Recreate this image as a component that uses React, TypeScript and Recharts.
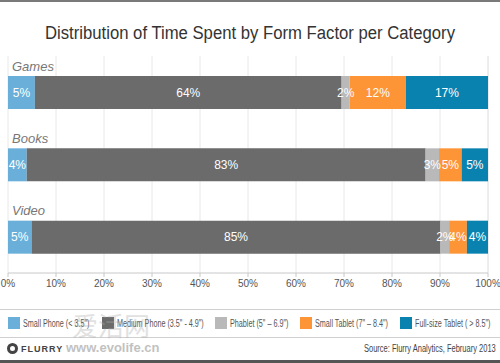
import React from 'react';
import { BarChart, Bar, XAxis, YAxis, CartesianGrid, LabelList } from 'recharts';

// categories and series
const categories = ['Games', 'Books', 'Video'];
const seriesKeys = ['smallPhone', 'mediumPhone', 'phablet', 'smallTablet', 'fullTablet'];
const seriesNames = [
  'Small Phone (< 3.5")',
  'Medium Phone (3.5" - 4.9")',
  'Phablet (5" – 6.9")',
  'Small Tablet (7" – 8.4")',
  'Full-size Tablet ( > 8.5")',
];
const seriesColors = ['#6aafd9', '#6b6b6b', '#b9b9b9', '#fd9436', '#0a82b0'];

// bar lengths (measured) and the printed labels
const smallPhone = [5.6, 3.9, 4.9];
const mediumPhone = [63.9, 83.1, 85.2];
const phablet = [1.7, 2.8, 1.8];
const smallTablet = [11.7, 4.7, 3.7];
const fullTablet = [17.1, 5.5, 4.4];
const smallPhoneLabel = [5, 4, 5];
const mediumPhoneLabel = [64, 83, 85];
const phabletLabel = [2, 3, 2];
const smallTabletLabel = [12, 5, 4];
const fullTabletLabel = [17, 5, 4];

const xTicks = [0, 10, 20, 30, 40, 50, 60, 70, 80, 90, 100];

const values = [smallPhone, mediumPhone, phablet, smallTablet, fullTablet];
const labels = [smallPhoneLabel, mediumPhoneLabel, phabletLabel, smallTabletLabel, fullTabletLabel];

const data = categories.map((c, i) => {
  const row: any = { category: c };
  seriesKeys.forEach((k, j) => {
    row[k] = values[j][i];
    row[k + 'Label'] = labels[j][i];
  });
  return row;
});

const FONT = '"Liberation Sans", Arial, Helvetica, sans-serif';

// category name drawn above the start of each bar
const CategoryLabel = (props: any) => {
  const { x, y, value } = props;
  return (
    <text x={x + 4} y={y - 10} dy="0.35em" textAnchor="start" fontSize={13} fontStyle="italic" fill="#777" fontFamily={FONT}>
      {value}
    </text>
  );
};

const narrow = (s: number): React.CSSProperties => ({ display: 'inline-block', transform: `scaleX(${s})`, transformOrigin: 'left center', whiteSpace: 'nowrap' });

export default function App() {
  return (
    <div style={{ position: 'fixed', left: 0, top: 0, width: 500, height: 363, background: '#fff', fontFamily: FONT, overflow: 'hidden' }}>
      <div style={{ position: 'absolute', left: 0, top: 0, width: 500, height: 2, background: '#7a7a7a' }} />
      <svg style={{ position: 'absolute', left: 0, top: 0 }} width={500} height={50}>
        <text x={250} y={33} dy="0.35em" textAnchor="middle" fontSize={18} fill="#333" fontFamily={FONT} textLength={410} lengthAdjust="spacingAndGlyphs">
          Distribution of Time Spent by Form Factor per Category
        </text>
      </svg>
      <div style={{ position: 'absolute', left: 0, top: 0 }}>
        <BarChart width={500} height={300} data={data} layout="vertical" margin={{ top: 56, right: 12, bottom: 0, left: 8 }} barSize={33}>
          <CartesianGrid horizontal={false} stroke="#e8e8e8" />
          <XAxis
            type="number"
            domain={[0, 100]}
            ticks={xTicks}
            tickFormatter={(v: number) => `${v}%`}
            height={27}
            tickSize={4}
            tickMargin={3}
            axisLine={{ stroke: '#c8c8c8' }}
            tickLine={{ stroke: '#c8c8c8' }}
            tick={{ fontSize: 10, fill: '#555', fontFamily: FONT }}
            interval={0}
          />
          <YAxis type="category" dataKey="category" hide />
          {seriesKeys.map((k, j) => (
            <Bar key={k} dataKey={k} name={seriesNames[j]} stackId="a" fill={seriesColors[j]} isAnimationActive={false}>
              <LabelList dataKey={k + 'Label'} position="center" formatter={(v: any) => `${v}%`} fill="#fff" fontSize={12} fontFamily={FONT} />
              {j === 0 && <LabelList dataKey="category" content={<CategoryLabel />} />}
            </Bar>
          ))}
        </BarChart>
      </div>
      <div style={{ position: 'absolute', left: 0, top: 309, width: 500, height: 1, background: '#d0d0d0' }} />
      <div style={{ position: 'absolute', left: 0, top: 337, width: 500, height: 1, background: '#d0d0d0' }} />
      {seriesNames.map((n, j) => (
        <div key={n} style={{ position: 'absolute', left: [8, 102, 215, 300, 400][j], top: 317, height: 12, display: 'flex', alignItems: 'center', whiteSpace: 'nowrap' }}>
          <div style={{ width: 12, height: 12, background: seriesColors[j], marginRight: 3, flex: 'none' }} />
          <span style={{ fontSize: 10, color: '#555', ...narrow(0.72) }}>{n}</span>
        </div>
      ))}
      <div style={{ position: 'absolute', left: 7, top: 343, display: 'flex', alignItems: 'center' }}>
        <div style={{ width: 11, height: 11, borderRadius: '50%', border: '3px solid #444', boxSizing: 'border-box', marginRight: 3 }} />
        <span style={{ fontSize: 9, fontWeight: 'bold', color: '#444', letterSpacing: 1 }}>FLURRY</span>
      </div>
      <div style={{ position: 'absolute', left: 66, top: 340, fontSize: 13, color: '#999', opacity: 0.6, fontWeight: 'bold' }}>www.evolife.cn</div>
      <div style={{ position: 'absolute', left: 72, top: 306, fontSize: 26, color: '#aaa', opacity: 0.35, fontFamily: '"Noto Sans CJK SC", sans-serif' }}>爱活网</div>
      <div style={{ position: 'absolute', left: 364, top: 343, fontSize: 10, color: '#444' }}>
        <span style={narrow(0.75)}>Source: Flurry Analytics, February 2013</span>
      </div>
      <div style={{ position: 'absolute', left: 0, top: 360, width: 500, height: 3, background: '#555' }} />
    </div>
  );
}
